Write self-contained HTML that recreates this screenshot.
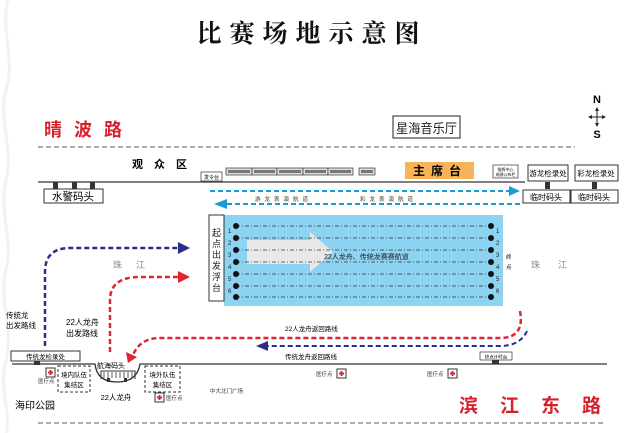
<!DOCTYPE html>
<html><head><meta charset="utf-8"><style>
html,body{margin:0;padding:0;background:#fff;}
svg{display:block;font-family:"Liberation Sans","Noto Sans CJK SC",sans-serif;}
</style></head><body>
<svg width="632" height="433" viewBox="0 0 632 433" xmlns="http://www.w3.org/2000/svg">
<!-- left decorative waves -->
<path d="M8,0 C0,30 16,60 6,90 C-2,120 14,150 6,180 C-2,210 14,240 6,270 C-2,300 14,330 6,360 C-2,390 12,415 6,433" stroke="#f2f2f2" stroke-width="3" fill="none"/>
<!-- title -->
<text x="312" y="42" font-family="'Noto Serif CJK SC',serif" font-weight="bold" font-size="25" text-anchor="middle" letter-spacing="8" fill="#111">比赛场地示意图</text>
<text x="44" y="136" font-size="18" fill="#d8202c" letter-spacing="12" font-weight="bold">晴波路</text>
<rect x="393" y="116" width="67" height="22" fill="#fff" stroke="#222"/>
<text x="396" y="133" font-size="13" textLength="61" lengthAdjust="spacingAndGlyphs" fill="#222">星海音乐厅</text>
<text x="597" y="103" font-size="11" font-weight="bold" text-anchor="middle">N</text>
<text x="597" y="138" font-size="11" font-weight="bold" text-anchor="middle">S</text>
<path d="M597,108 V126 M589,117 H605" stroke="#222" stroke-width="1"/>
<path d="M597,107 l-2,4 h4z M597,127 l-2,-4 h4z M588,117 l4,-2 v4z M606,117 l-4,-2 v4z" fill="#222"/>
<line x1="38" y1="147" x2="575" y2="147" stroke="#555" stroke-width="1" stroke-dasharray="5,3"/>
<text x="132" y="168" font-size="11" font-weight="bold" letter-spacing="11">观众区</text>
<!-- top shore line -->
<line x1="38" y1="182" x2="525" y2="182" stroke="#333" stroke-width="1.3"/>
<rect x="53" y="182" width="5" height="7" fill="#333"/><rect x="72" y="182" width="5" height="7" fill="#333"/><rect x="90" y="182" width="5" height="7" fill="#333"/>
<rect x="44" y="189" width="59" height="14" fill="#fff" stroke="#333"/>
<text x="73" y="200" font-size="10.5" text-anchor="middle">水警码头</text>
<rect x="201" y="172" width="21" height="9" fill="#fff" stroke="#333" stroke-width="0.7"/>
<text x="211.5" y="179" font-size="5" text-anchor="middle">发令台</text>
<g stroke="#333" stroke-width="0.7" fill="#ddd">
<rect x="226" y="168" width="26" height="7"/><rect x="252" y="168" width="25" height="7"/><rect x="277" y="168" width="26" height="7"/><rect x="303" y="168" width="25" height="7"/><rect x="328" y="168" width="25" height="7"/><rect x="359" y="168" width="16" height="7"/>
</g>
<g fill="#777"><rect x="228" y="170" width="22" height="3"/><rect x="254" y="170" width="21" height="3"/><rect x="279" y="170" width="22" height="3"/><rect x="305" y="170" width="21" height="3"/><rect x="330" y="170" width="21" height="3"/><rect x="361" y="170" width="12" height="3"/></g>
<rect x="405" y="162" width="69" height="17" fill="#f6b35a"/>
<text x="440" y="175" font-size="12" font-weight="bold" text-anchor="middle" letter-spacing="6">主席台</text>
<rect x="493" y="165" width="25" height="13" fill="#fff" stroke="#333" stroke-width="0.7"/>
<text x="505.5" y="171" font-size="4" text-anchor="middle">指挥中心</text><text x="505.5" y="176" font-size="4" text-anchor="middle">成绩公布栏</text>
<rect x="528" y="165" width="40" height="16" fill="#fff" stroke="#333"/><text x="548" y="176" font-size="7.5" text-anchor="middle">游龙检录处</text>
<rect x="575" y="165" width="43" height="16" fill="#fff" stroke="#333"/><text x="596" y="176" font-size="7.5" text-anchor="middle">彩龙检录处</text>
<rect x="545" y="182" width="5" height="7" fill="#333"/><rect x="592" y="182" width="5" height="7" fill="#333"/>
<rect x="523" y="190" width="47" height="13" fill="#fff" stroke="#333"/><text x="546" y="200" font-size="8" text-anchor="middle">临时码头</text>
<rect x="571" y="190" width="47" height="13" fill="#fff" stroke="#333"/><text x="594" y="200" font-size="8" text-anchor="middle">临时码头</text>
<!-- blue performance lanes -->
<line x1="210" y1="191" x2="510" y2="191" stroke="#1a9ad6" stroke-width="2" stroke-dasharray="5,3"/>
<path d="M509,186 L520,191 L509,196z" fill="#1a9ad6"/>
<line x1="520" y1="204" x2="226" y2="204" stroke="#1a9ad6" stroke-width="2" stroke-dasharray="5,3"/>
<path d="M227,199 L214,204 L227,209z" fill="#1a9ad6"/>
<text x="255" y="201" font-size="5.5" letter-spacing="4" fill="#333">游龙表演航道</text>
<text x="360" y="201" font-size="5.5" letter-spacing="4" fill="#333">彩龙表演航道</text>
<!-- race area -->
<rect x="224" y="215" width="279" height="91" fill="#8dd3f2"/>
<rect x="209" y="215" width="15" height="86" fill="#fff" stroke="#333"/>
<text font-size="9" fill="#222" text-anchor="middle"><tspan x="216.5" y="236">起</tspan><tspan x="216.5" y="247">点</tspan><tspan x="216.5" y="258">出</tspan><tspan x="216.5" y="269">发</tspan><tspan x="216.5" y="280">浮</tspan><tspan x="216.5" y="291">台</tspan></text>
<path d="M247,240 H310 V232 L333,252 L310,272 V264 H247z" fill="#e8e8e8"/>
<g stroke="#333" stroke-width="0.7" stroke-dasharray="4,2,1,2">
<line x1="236" y1="226" x2="491" y2="226"/><line x1="236" y1="238" x2="491" y2="238"/><line x1="236" y1="250" x2="491" y2="250"/><line x1="236" y1="262" x2="491" y2="262"/><line x1="236" y1="274" x2="491" y2="274"/><line x1="236" y1="286" x2="491" y2="286"/><line x1="236" y1="297" x2="491" y2="297"/>
</g>
<g fill="#111">
<circle cx="236" cy="226" r="3"/><circle cx="236" cy="238" r="3"/><circle cx="236" cy="250" r="3"/><circle cx="236" cy="262" r="3"/><circle cx="236" cy="274" r="3"/><circle cx="236" cy="286" r="3"/><circle cx="236" cy="297" r="3"/>
<circle cx="491" cy="226" r="3"/><circle cx="491" cy="238" r="3"/><circle cx="491" cy="250" r="3"/><circle cx="491" cy="262" r="3"/><circle cx="491" cy="274" r="3"/><circle cx="491" cy="286" r="3"/><circle cx="491" cy="297" r="3"/>
</g>
<g font-size="6" fill="#222"><text x="228" y="233">1</text><text x="228" y="245">2</text><text x="228" y="257">3</text><text x="228" y="269">4</text><text x="228" y="281">5</text><text x="228" y="293">6</text>
<text x="496" y="233">1</text><text x="496" y="245">2</text><text x="496" y="257">3</text><text x="496" y="269">4</text><text x="496" y="281">5</text><text x="496" y="293">6</text></g>
<text x="324" y="259" font-size="7" fill="#222">22人龙舟、传统龙赛赛航道</text>
<text x="506" y="259" font-size="5.5">终</text><text x="506" y="269" font-size="5.5">点</text>
<text x="113" y="268" font-size="9" fill="#888" letter-spacing="14">珠江</text>
<text x="531" y="268" font-size="9" fill="#888" letter-spacing="18">珠江</text>
<!-- departure routes -->
<path d="M45,346 V272 Q45,248 70,248 H180" fill="none" stroke="#2a2f86" stroke-width="2.5" stroke-dasharray="5,3"/>
<path d="M178,242 L190,248 L178,254z" fill="#2a2f86"/>
<path d="M110,352 V300 Q110,277 140,277 H180" fill="none" stroke="#e02430" stroke-width="2.5" stroke-dasharray="5,3"/>
<path d="M178,271 L190,277 L178,283z" fill="#e02430"/>
<text x="6" y="318" font-size="7.5">传统龙</text><text x="6" y="328" font-size="7.5">出发路线</text>
<text x="66" y="325" font-size="8">22人龙舟</text><text x="66" y="336" font-size="8">出发路线</text>
<!-- return routes -->
<path d="M520,311 Q525,338 500,338 H160 Q140,338 133,355" fill="none" stroke="#e02430" stroke-width="2.5" stroke-dasharray="5,3"/>
<path d="M126,352 L128,363 L137,357z" fill="#e02430"/>
<path d="M527,331 Q520,346 500,346 H268" fill="none" stroke="#2a2f86" stroke-width="2" stroke-dasharray="5,3"/>
<path d="M268,341 L256,346 L268,351z" fill="#2a2f86"/>
<text x="285" y="331" font-size="6.5">22人龙舟返回路线</text>
<text x="285" y="359" font-size="6.5">传统龙舟返回路线</text>
<!-- bottom shore -->
<path d="M12,364 H95 Q97,382 117,382 Q137,382 140,364 H607" fill="none" stroke="#333" stroke-width="1.3"/>
<rect x="11" y="351" width="69" height="10" fill="#fff" stroke="#333"/><text x="45.5" y="359" font-size="6.5" text-anchor="middle">传统龙检录处</text>
<rect x="34" y="361" width="6" height="4" fill="#333"/>
<rect x="480" y="352" width="32" height="8" fill="#fff" stroke="#333" stroke-width="0.7"/><text x="496" y="358.5" font-size="4.5" text-anchor="middle">终点计时台</text>
<rect x="492" y="360" width="7" height="4" fill="#333"/>
<text x="97" y="368" font-size="7">航海码头</text>
<path d="M101,379 V371 H135 V379" fill="none" stroke="#333" stroke-width="1"/>
<g stroke="#333" stroke-width="0.8"><line x1="104" y1="372" x2="104" y2="378"/><line x1="108" y1="372" x2="108" y2="378"/><line x1="112" y1="372" x2="112" y2="378"/><line x1="116" y1="372" x2="116" y2="378"/><line x1="120" y1="372" x2="120" y2="378"/><line x1="124" y1="372" x2="124" y2="378"/><line x1="128" y1="372" x2="128" y2="378"/><line x1="132" y1="372" x2="132" y2="378"/></g>
<rect x="107" y="378" width="3" height="4" fill="#333"/><rect x="124" y="378" width="3" height="4" fill="#333"/>
<rect x="58" y="366" width="32" height="26" fill="none" stroke="#333" stroke-dasharray="3,2"/>
<text x="74" y="377" font-size="6.5" text-anchor="middle">境内队伍</text><text x="74" y="387" font-size="6.5" text-anchor="middle">集结区</text>
<rect x="145" y="366" width="35" height="26" fill="none" stroke="#333" stroke-dasharray="3,2"/>
<text x="162.5" y="377" font-size="6.5" text-anchor="middle">境外队伍</text><text x="162.5" y="387" font-size="6.5" text-anchor="middle">集结区</text>
<text x="116" y="400" font-size="7.5" text-anchor="middle">22人龙舟</text>
<!-- medical -->
<g>
<rect x="46" y="368" width="9" height="9" fill="#fff" stroke="#333"/><path d="M50.5,370 V375 M48,372.5 H53" stroke="#e02430" stroke-width="2"/>
<rect x="155" y="393" width="9" height="9" fill="#fff" stroke="#333"/><path d="M159.5,395 V400 M157,397.5 H162" stroke="#e02430" stroke-width="2"/>
<rect x="337" y="369" width="9" height="9" fill="#fff" stroke="#333"/><path d="M341.5,371 V376 M339,373.5 H344" stroke="#e02430" stroke-width="2"/>
<rect x="448" y="369" width="9" height="9" fill="#fff" stroke="#333"/><path d="M452.5,371 V376 M450,373.5 H455" stroke="#e02430" stroke-width="2"/>
</g>
<g font-size="5.5" fill="#333"><text x="38" y="383">医疗点</text><text x="166" y="400">医疗点</text><text x="316" y="376">医疗点</text><text x="427" y="376">医疗点</text><text x="210" y="393">中大北门广场</text></g>
<text x="15" y="409" font-size="10">海印公园</text>
<text x="459" y="412" font-size="19" fill="#d8202c" letter-spacing="22" font-weight="bold">滨江东路</text>
<line x1="38" y1="423" x2="605" y2="423" stroke="#555" stroke-width="1" stroke-dasharray="5,3"/>
</svg>
</body></html>
